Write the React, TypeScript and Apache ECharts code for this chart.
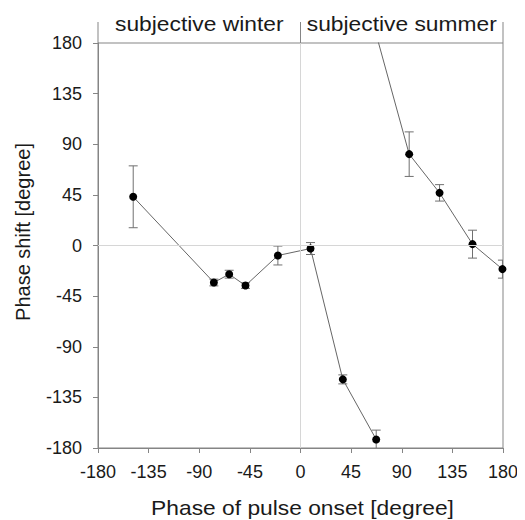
import React, { useEffect, useRef } from "react";
import * as echarts from "echarts";

const xTicks = [-180, -135, -90, -45, 0, 45, 90, 135, 180];
const yTicks = [-180, -135, -90, -45, 0, 45, 90, 135, 180];

// Branch 1 (subjective winter -> early summer)
const winterX = [-148.7, -77, -63.4, -48.9, -20.1, 8.9, 37.6, 67.3];
const winterY = [43.3, -32.9, -25.5, -35.6, -8.9, -2.7, -119, -172.4];
const winterErr = [27.5, 3, 3.5, 2.5, 8.4, 5.3, 4, 8.3];

// Branch 2 (wrapped continuation, first point = last point of branch 1 + 360)
const summerX = [67.3, 96.6, 123.6, 152.9, 179.5];
const summerY = [187.6, 81.2, 46.8, 1.2, -21];
const summerErr = [0, 19.8, 7.3, 12.4, 8];

const headerLabels = ["subjective winter", "subjective summer"];
const xTitle = "Phase of pulse onset [degree]";
const yTitle = "Phase shift [degree]";

const FONT = "'Liberation Sans', Arial, sans-serif";
const AXIS_COLOR = "#858585";

export default function App() {
  const ref = useRef<HTMLDivElement>(null);

  useEffect(() => {
    if (!ref.current) return;
    const chart = echarts.init(ref.current, null, { renderer: "svg" });

    const winterData = winterX.map((x, i) => [x, winterY[i]]);
    const summerData = summerX.map((x, i) =>
      summerErr[i] === 0 ? { value: [x, summerY[i]], symbol: "none" } : [x, summerY[i]]
    );
    const errData: number[][] = [];
    winterX.forEach((x, i) => errData.push([x, winterY[i], winterErr[i]]));
    summerX.forEach((x, i) => {
      if (summerErr[i] > 0) errData.push([x, summerY[i], summerErr[i]]);
    });

    const axisCommon = {
      type: "value" as const,
      min: -180,
      max: 180,
      interval: 45,
      axisLine: { show: true, onZero: false, lineStyle: { color: AXIS_COLOR, width: 1 } },
      axisTick: { show: true, inside: false, length: 5, lineStyle: { color: AXIS_COLOR } },
      splitLine: { show: false },
    };

    chart.setOption({
      animation: false,
      grid: {
        left: 90,
        top: 35,
        width: 405,
        height: 405,
        show: true,
        borderColor: AXIS_COLOR,
        borderWidth: 1,
        backgroundColor: "transparent",
      },
      xAxis: {
        ...axisCommon,
        position: "bottom",
        axisLabel: {
          margin: 15,
          fontSize: 18,
          fontFamily: FONT,
          color: "#1a1a1a",
          formatter: (v: number) => (xTicks.includes(v) ? String(v) : ""),
        },
      },
      yAxis: {
        ...axisCommon,
        position: "left",
        axisLabel: {
          margin: 16,
          fontSize: 18,
          fontFamily: FONT,
          color: "#1a1a1a",
          formatter: (v: number) => (yTicks.includes(v) ? String(v) : ""),
        },
      },
      series: [
        {
          type: "line",
          data: [],
          silent: true,
          markLine: {
            silent: true,
            symbol: "none",
            label: { show: false },
            lineStyle: { color: "#d6d6d6", type: "solid", width: 1 },
            data: [{ xAxis: 0 }, { yAxis: 0 }],
          },
        },
        {
          type: "custom",
          clip: true,
          data: errData,
          z: 3,
          renderItem: (params: any, api: any) => {
            const x = api.value(0);
            const y = api.value(1);
            const e = api.value(2);
            const top = api.coord([x, y + e]);
            const bot = api.coord([x, y - e]);
            const hw = 4.5;
            const style = { stroke: "#707070", lineWidth: 1 };
            return {
              type: "group",
              children: [
                { type: "line", shape: { x1: top[0], y1: top[1], x2: bot[0], y2: bot[1] }, style },
                { type: "line", shape: { x1: top[0] - hw, y1: top[1], x2: top[0] + hw, y2: top[1] }, style },
                { type: "line", shape: { x1: bot[0] - hw, y1: bot[1], x2: bot[0] + hw, y2: bot[1] }, style },
              ],
            };
          },
        },
        {
          type: "line",
          data: winterData,
          clip: true,
          z: 4,
          symbol: "circle",
          symbolSize: 8,
          itemStyle: { color: "#000" },
          lineStyle: { color: "#666", width: 1 },
        },
        {
          type: "line",
          data: summerData,
          clip: true,
          z: 4,
          symbol: "circle",
          symbolSize: 8,
          itemStyle: { color: "#000" },
          lineStyle: { color: "#666", width: 1 },
        },
      ],
    });

    const p = (x: number, y: number) => chart.convertToPixel({ gridIndex: 0 }, [x, y]) as number[];
    const topY = p(0, 180)[1];
    const bottomY = p(0, -180)[1];
    const headerTop = 14;
    const lineX = [-180, 0, 180].map((v) => p(v, 0)[0]);
    const textX = [-90, 90].map((v) => p(v, 0)[0]);
    const centerX = p(0, 0)[0];

    chart.setOption({
      graphic: [
        ...lineX.map((x) => ({
          type: "line",
          shape: { x1: x, y1: headerTop, x2: x, y2: topY },
          style: { stroke: AXIS_COLOR, lineWidth: 1 },
        })),
        ...headerLabels.map((t, i) => ({
          type: "text",
          x: textX[i],
          y: 16,
          scaleX: 1.14,
          style: {
            text: t,
            fontSize: 20,
            fontFamily: FONT,
            fill: "#1a1a1a",
            textAlign: "center",
            textVerticalAlign: "middle",
          },
        })),
        {
          type: "text",
          x: centerX + 2,
          y: bottomY + 60,
          scaleX: 1.14,
          style: {
            text: xTitle,
            fontSize: 20,
            fontFamily: FONT,
            fill: "#1a1a1a",
            textAlign: "center",
            textVerticalAlign: "middle",
          },
        },
        {
          type: "text",
          x: 15,
          y: 224,
          rotation: Math.PI / 2,
          style: {
            text: yTitle,
            fontSize: 20,
            fontFamily: FONT,
            fill: "#1a1a1a",
            textAlign: "center",
            textVerticalAlign: "middle",
          },
        },
      ],
    });

    return () => chart.dispose();
  }, []);

  return <div ref={ref} style={{ width: 517, height: 512 }} />;
}
